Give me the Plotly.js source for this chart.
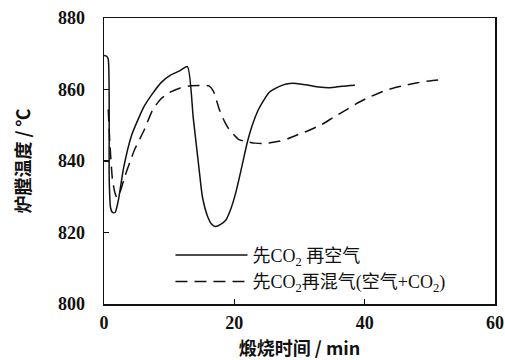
<!DOCTYPE html>
<html><head><meta charset="utf-8">
<script src="https://cdn.plot.ly/plotly-3.0.1.min.js"></script>
<style>html,body{margin:0;padding:0;background:#fff;}#chart{width:505px;height:360px;}</style>
</head><body><div id="chart"></div>
<script>
const solidT = [0, 0.4, 0.65, 0.8, 1.0, 1.3, 1.7, 2.2, 3.0, 4.2, 5.2, 6.2, 7.5, 8.8, 10.2, 11.6, 12.8, 13.7, 14.6, 15.1, 15.9, 16.5, 17.1, 17.9, 18.7, 19.5, 20.2, 21.1, 22.0, 22.7, 23.7, 25.3, 26.3, 27.5, 28.5, 29.5, 31.4, 33.0, 34.6, 36.5, 38.5];
const solidV = [869.5, 869.3, 868.5, 835, 827, 825.6, 825.6, 829, 838, 847, 851.5, 855.4, 859, 862, 864, 865.2, 866.4, 852, 837.6, 830, 824.5, 822.4, 821.7, 822.3, 823.5, 826.8, 831, 838, 845.3, 849.7, 854.4, 859.1, 860.3, 861.3, 861.7, 861.7, 861.2, 860.7, 860.5, 860.9, 861.2];
const dashT = [0.65, 0.9, 1.3, 1.7, 2.0, 2.5, 3.2, 4.0, 4.7, 5.5, 6.2, 7.5, 8.8, 10.0, 11.5, 13.1, 14.5, 16.1, 16.8, 17.7, 18.5, 19.2, 20.0, 20.7, 22.0, 23.2, 24.2, 25.5, 26.8, 28.3, 29.8, 31.5, 33.4, 35.2, 36.9, 38.7, 40.5, 42.3, 44.0, 46.0, 48.1, 50.0, 51.6];
const dashV = [854.4, 845, 834.8, 831, 829.7, 831.5, 835.7, 839.8, 843.2, 846.2, 848.8, 854.4, 857.5, 859.1, 860.3, 861, 861.1, 861, 859.5, 854.4, 851, 848.8, 847.2, 846, 845.4, 845, 844.9, 845.1, 845.5, 846.3, 847.4, 848.6, 850.2, 852.2, 854, 856, 857.7, 859.1, 860.2, 861.1, 861.9, 862.4, 862.7];
const names = ['先CO<sub>2</sub> 再空气', '先CO<sub>2</sub>再混气(空气+CO<sub>2</sub>)'];
const xTicks = [0, 20, 40, 60];
const yTicks = [800, 820, 840, 860, 880];

const tickFont = {family: 'Liberation Serif, serif', size: 18, color: '#111', weight: 'bold'};
const traces = [
  {x: solidT, y: solidV, mode: 'lines', name: names[0], line: {color: '#111', width: 1.5, shape: 'spline', smoothing: 0.6}},
  {x: dashT, y: dashV, mode: 'lines', name: names[1], line: {color: '#111', width: 1.5, dash: '12px,7px', shape: 'spline', smoothing: 0.6}}
];
const axisCommon = {showgrid: false, zeroline: false, showline: true, linecolor: '#111', linewidth: 1.5, mirror: true, ticks: 'inside', ticklen: 5, tickcolor: '#111', tickwidth: 1.2, tickfont: tickFont, ticklabeloverflow: 'allow'};
const titleFont = {family: 'Noto Sans CJK SC, sans-serif', size: 18, color: '#111', weight: 'bold'};
const layout = {
  width: 505, height: 360,
  margin: {l: 104, r: 10, t: 18, b: 56},
  paper_bgcolor: '#fff', plot_bgcolor: '#fff',
  showlegend: true,
  legend: {x: 0.17, y: 0.235, xanchor: 'left', yanchor: 'top', bgcolor: 'rgba(0,0,0,0)', borderwidth: 0, itemwidth: 72, tracegroupgap: 0,
    font: {family: 'Liberation Serif, Noto Sans CJK SC, serif', size: 18, color: '#111'}},
  xaxis: Object.assign({}, axisCommon, {range: [0, 60], tickvals: xTicks, ticktext: xTicks.map(v => '<b>' + v + '</b>'), ticklabelstandoff: 2,
    title: {text: '<b>煅烧时间 / min</b>', font: titleFont, standoff: 12}}),
  yaxis: Object.assign({}, axisCommon, {range: [800, 880], tickvals: yTicks, ticktext: yTicks.map(v => '<b>' + v + '</b>'), ticklabelstandoff: 14,
    title: {text: '<b>炉膛温度 / ℃</b>', font: titleFont, standoff: 22}})
};
Plotly.newPlot('chart', traces, layout, {displayModeBar: false, staticPlot: true});
</script></body></html>
